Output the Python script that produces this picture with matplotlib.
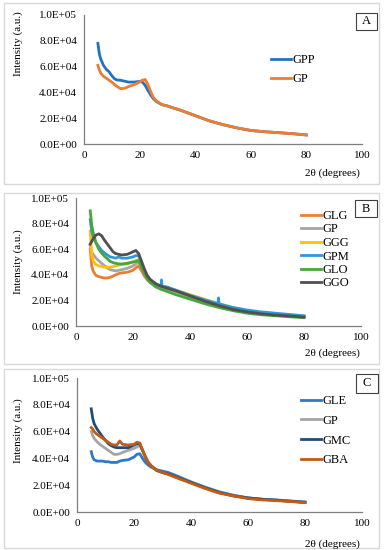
import matplotlib
matplotlib.use("Agg")
import matplotlib.pyplot as plt
from matplotlib.patches import Rectangle
import numpy as np

plt.rcParams['font.family'] = ['Liberation Serif', 'DejaVu Serif']

# 2theta positions (degrees), intensities in units of 1e4
tth = [5, 5.5, 6, 7, 8, 9, 10, 11, 12, 13, 14, 15, 16, 18, 20, 21, 22, 23, 24, 25,
       26, 28, 30, 32, 35, 40, 45, 50, 55, 60, 65, 70, 75, 80]

# panel A
gpp = [7.8, 7.0, 6.6, 6.1, 5.8, 5.6, 5.3, 5.05, 4.95, 4.95, 4.9, 4.85, 4.8, 4.8, 4.85, 4.8, 4.55, 4.15, 3.8, 3.5,
       3.3, 3.05, 2.95, 2.8, 2.6, 2.2, 1.8, 1.5, 1.25, 1.05, 0.95, 0.88, 0.8, 0.7]
gp_a = [6.1, 5.75, 5.5, 5.25, 5.1, 4.95, 4.8, 4.6, 4.45, 4.3, 4.3, 4.35, 4.45, 4.6, 4.8, 4.95, 5.0, 4.6, 4.05, 3.6,
        3.35, 3.05, 2.95, 2.8, 2.6, 2.2, 1.8, 1.5, 1.25, 1.05, 0.95, 0.88, 0.8, 0.7]

# panel B
glg = [6.0, 4.7, 4.3, 3.95, 3.85, 3.8, 3.75, 3.75, 3.8, 3.9, 4.0, 4.1, 4.15, 4.2, 4.35, 4.55, 4.7, 4.3, 3.9, 3.6,
       3.4, 3.2, 3.05, 2.9, 2.7, 2.3, 1.95, 1.6, 1.3, 1.1, 0.95, 0.85, 0.78, 0.7]
gp_b = [6.3, 5.8, 5.6, 5.3, 5.1, 4.9, 4.7, 4.55, 4.4, 4.35, 4.3, 4.35, 4.4, 4.5, 4.7, 4.85, 5.0, 4.6, 4.1, 3.7,
        3.45, 3.2, 3.05, 2.9, 2.7, 2.3, 1.95, 1.6, 1.3, 1.1, 0.95, 0.85, 0.78, 0.7]
ggg = [7.4, 5.6, 5.1, 4.8, 4.7, 4.65, 4.6, 4.6, 4.6, 4.65, 4.7, 4.75, 4.8, 4.85, 5.0, 5.1, 5.2, 4.75, 4.2, 3.8,
       3.5, 3.25, 3.1, 3.0, 2.8, 2.45, 2.1, 1.75, 1.45, 1.2, 1.0, 0.9, 0.82, 0.75]
gpm_x = [5, 5.5, 6, 7, 8, 9, 10, 11, 12, 13, 14, 15, 16, 18, 20, 21, 22, 23, 24, 25,
         26, 28, 29.8, 30, 30.2, 32, 35, 40, 45, 49.8, 50, 50.2, 55, 60, 65, 70, 75, 80]
gpm = [8.3, 7.4, 7.0, 6.5, 6.2, 5.9, 5.7, 5.55, 5.4, 5.35, 5.3, 5.4, 5.3, 5.3, 5.4, 5.5, 5.5, 4.9, 4.3, 3.85,
       3.55, 3.25, 3.1, 3.6, 3.1, 3.05, 2.8, 2.4, 2.05, 1.75, 2.2, 1.72, 1.45, 1.25, 1.1, 1.0, 0.9, 0.8]
glo = [9.0, 7.9, 7.3, 6.5, 6.0, 5.7, 5.45, 5.25, 5.05, 4.95, 4.9, 4.85, 4.85, 4.9, 5.0, 5.05, 5.1, 4.6, 4.1, 3.7,
       3.4, 3.05, 2.85, 2.7, 2.45, 2.1, 1.75, 1.45, 1.2, 1.0, 0.88, 0.8, 0.72, 0.65]
ggo = [6.4, 6.6, 6.8, 7.1, 7.2, 7.05, 6.7, 6.4, 6.1, 5.8, 5.65, 5.6, 5.55, 5.6, 5.8, 5.9, 5.65, 5.05, 4.45, 3.95,
       3.65, 3.3, 3.1, 2.95, 2.75, 2.35, 1.95, 1.6, 1.3, 1.1, 0.95, 0.85, 0.78, 0.7]

# panel C
gle = [4.5, 4.1, 3.9, 3.8, 3.8, 3.8, 3.75, 3.75, 3.7, 3.7, 3.7, 3.8, 3.85, 3.9, 4.1, 4.3, 4.35, 4.0, 3.7, 3.5,
       3.35, 3.15, 3.05, 2.95, 2.7, 2.25, 1.85, 1.5, 1.25, 1.05, 0.95, 0.9, 0.82, 0.75]
gp_c = [6.0, 5.7, 5.5, 5.25, 5.05, 4.9, 4.75, 4.6, 4.45, 4.3, 4.3, 4.35, 4.45, 4.6, 4.75, 4.85, 5.0, 4.6, 4.1, 3.7,
        3.45, 3.1, 2.95, 2.85, 2.6, 2.2, 1.8, 1.45, 1.2, 1.05, 0.95, 0.88, 0.8, 0.72]
gmc = [7.7, 7.0, 6.6, 6.2, 5.9, 5.6, 5.35, 5.1, 4.95, 4.85, 4.8, 4.8, 4.8, 4.8, 5.0, 5.1, 5.1, 4.6, 4.1, 3.7,
       3.45, 3.1, 2.95, 2.85, 2.6, 2.2, 1.8, 1.45, 1.2, 1.05, 0.95, 0.88, 0.8, 0.72]
gba = [6.3, 6.2, 6.0, 5.8, 5.65, 5.5, 5.35, 5.2, 5.05, 5.0, 5.0, 5.3, 5.05, 5.0, 5.05, 5.2, 5.15, 4.6, 4.1, 3.7,
       3.45, 3.1, 2.95, 2.8, 2.55, 2.15, 1.75, 1.4, 1.2, 1.0, 0.9, 0.85, 0.78, 0.7]

yticks = [0, 20000, 40000, 60000, 80000, 100000]
ytick_labels = ['0.0E+00', '2.0E+04', '4.0E+04', '6.0E+04', '8.0E+04', '1.0E+05']
xticks = [0, 20, 40, 60, 80, 100]

W, H = 386, 550
fig = plt.figure(figsize=(W / 100, H / 100), dpi=100)
fig.set_facecolor('white')


def px(x0, y0, x1, y1):
    # pixel box -> figure fraction [left, bottom, width, height]
    return [x0 / W, 1 - y1 / H, (x1 - x0) / W, (y1 - y0) / H]


def setup(ax):
    ax.set_xlim(0, 100)
    ax.set_ylim(0, 100000)
    ax.set_xticks(xticks)
    ax.set_yticks(yticks)
    ax.set_yticklabels(ytick_labels)
    for s in ['top', 'right']:
        ax.spines[s].set_visible(False)
    for s in ['left', 'bottom']:
        ax.spines[s].set_color('#7f7f7f')
        ax.spines[s].set_linewidth(0.9)
    ax.tick_params(length=0, labelsize=8, pad=5)
    ax.set_facecolor('white')


panels = [
    dict(ax=(84, 15, 362, 144), frame=(4, 3, 379, 184), lab=(356, 13, 377, 30), letter='A',
         ylab=44, xlab=173, leg=(271, 54), sp=0.55,
         series=[(tth, gpp, '#2272c3', 'GPP'), (tth, gp_a, '#ed7d31', 'GP')]),
    dict(ax=(76, 198, 361, 326), frame=(4, 193, 379, 364), lab=(355, 200, 377, 217), letter='B',
         ylab=262, xlab=353, leg=(301, 210), sp=0.12,
         series=[(tth, glg, '#ed7d31', 'GLG'), (tth, gp_b, '#a5a5a5', 'GP'),
                 (tth, ggg, '#ffc000', 'GGG'), (gpm_x, gpm, '#2e98d8', 'GPM'),
                 (tth, glo, '#47a63c', 'GLO'), (tth, ggo, '#505050', 'GGO')]),
    dict(ax=(77, 378, 362, 512), frame=(4, 369, 379, 548), lab=(356, 374, 378, 393), letter='C',
         ylab=431, xlab=544, leg=(301, 395), sp=0.62,
         series=[(tth, gle, '#2e78c8', 'GLE'), (tth, gp_c, '#a5a5a5', 'GP'),
                 (tth, gmc, '#1f4e79', 'GMC'), (tth, gba, '#c55a11', 'GBA')]),
]

for p in panels:
    fx0, fy0, fx1, fy1 = p['frame']
    fig.patches.append(Rectangle((fx0 / W, 1 - fy1 / H), (fx1 - fx0) / W, (fy1 - fy0) / H,
                                 transform=fig.transFigure, fill=False,
                                 edgecolor='#d9d9d9', linewidth=1.0))
    ax = fig.add_axes(px(*p['ax']))
    setup(ax)
    for xs, ys, c, name in p['series']:
        ax.plot(xs, np.array(ys) * 1e4, color=c, lw=2.0, label=name)
    lx, ly = p['leg']
    ax.legend(loc='upper left', bbox_to_anchor=(lx / W, 1 - ly / H), bbox_transform=fig.transFigure,
              frameon=False, fontsize=9, handlelength=1.6, handletextpad=0.1,
              labelspacing=p['sp'], borderpad=0, borderaxespad=0)
    bx0, by0, bx1, by1 = p['lab']
    fig.patches.append(Rectangle((bx0 / W, 1 - by1 / H), (bx1 - bx0) / W, (by1 - by0) / H,
                                 transform=fig.transFigure, fill=False,
                                 edgecolor='#404040', linewidth=0.8))
    fig.text((bx0 + bx1) / 2 / W, 1 - (by0 + by1) / 2 / H, p['letter'], ha='center', va='center', fontsize=9)
    fig.text(18 / W, 1 - p['ylab'] / H, 'Intensity (a.u.)', rotation=90, ha='center', va='center', fontsize=8)
    fig.text(360 / W, 1 - p['xlab'] / H, '2θ (degrees)', ha='right', va='center', fontsize=8)

plt.savefig('out.png', dpi=100)
